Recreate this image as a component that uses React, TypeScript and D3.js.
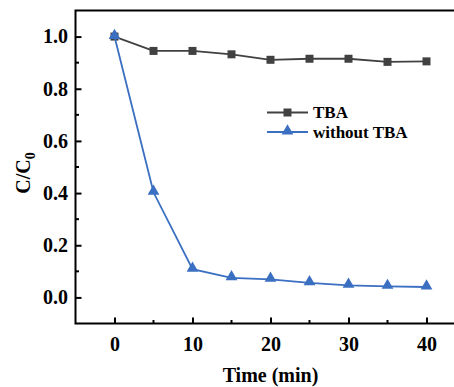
import { useEffect, useRef } from "react"
import * as d3 from "d3"

const times = [0, 5, 10, 15, 20, 25, 30, 35, 40]
const tba = [1.0, 0.945, 0.945, 0.932, 0.911, 0.915, 0.915, 0.903, 0.905]
const withoutTba = [1.0, 0.403, 0.108, 0.075, 0.069, 0.056, 0.046, 0.042, 0.04]
const xTicks = [0, 10, 20, 30, 40]
const yTicks = [0, 0.2, 0.4, 0.6, 0.8, 1.0]

const GRAY = "#414141"
const BLUE = "#3a6fc1"
const FONT = "'Liberation Serif', 'Times New Roman', serif"

export default function App() {
  const ref = useRef<SVGSVGElement>(null)
  useEffect(() => {
    if (!ref.current) return
    const svg = d3.select(ref.current)
    svg.selectAll("*").remove()
    const L = 75.5, T = 10.5, B = 323.5
    const x = d3.scaleLinear().domain([-5, 45]).range([L, L + 50 * 7.8])
    const y = d3.scaleLinear().domain([-0.1, 1.1]).range([B, T])

    // frame (right side runs off the picture)
    svg.append("path").attr("d", `M${x(45)},${T}H${L}V${B}H${x(45)}`)
      .attr("fill", "none").attr("stroke", "#000").attr("stroke-width", 2)

    const xAxis = svg.append("g").attr("transform", `translate(0,${B})`)
      .call(d3.axisBottom(x).tickValues(xTicks).tickSize(-6).tickPadding(13).tickFormat(d3.format("d")))
    xAxis.select(".domain").remove()
    xAxis.selectAll("line").attr("stroke-width", 2)
    xAxis.selectAll("text").style("font-family", FONT).style("font-size", "20px").style("font-weight", "bold").attr("fill", "#000")
    svg.append("g").selectAll("line").data([5, 15, 25, 35]).join("line")
      .attr("x1", d => x(d)).attr("x2", d => x(d)).attr("y1", B).attr("y2", B - 3.5)
      .attr("stroke", "#000").attr("stroke-width", 2)

    const yAxis = svg.append("g").attr("transform", `translate(${L},0)`)
      .call(d3.axisLeft(y).tickValues(yTicks).tickSize(-6).tickPadding(7.5).tickFormat(d3.format(".1f")))
    yAxis.select(".domain").remove()
    yAxis.selectAll("line").attr("stroke-width", 2)
    yAxis.selectAll("text").style("font-family", FONT).style("font-size", "20px").style("font-weight", "bold").attr("fill", "#000")
    svg.append("g").selectAll("line").data([0.1, 0.3, 0.5, 0.7, 0.9]).join("line")
      .attr("x1", L).attr("x2", L + 3.5).attr("y1", d => y(d)).attr("y2", d => y(d))
      .attr("stroke", "#000").attr("stroke-width", 2)

    svg.append("text").attr("x", (L + x(45)) / 2).attr("y", 382).attr("text-anchor", "middle")
      .style("font-family", FONT).style("font-size", "20px").style("font-weight", "bold").text("Time (min)")
    const yl = svg.append("text").attr("transform", `translate(30,${(T + B) / 2 + 6}) rotate(-90)`).attr("text-anchor", "middle")
      .style("font-family", FONT).style("font-size", "20px").style("font-weight", "bold")
    yl.append("tspan").text("C/C")
    yl.append("tspan").attr("dy", 5).style("font-size", "14px").text("0")

    const line = d3.line<number>().x((_, i) => x(times[i])).y(d => y(d))
    const square = d3.symbol(d3.symbolSquare, 64)
    const tri = d3.symbol(d3.symbolTriangle, 60)

    svg.append("path").datum(tba).attr("d", line).attr("fill", "none").attr("stroke", GRAY).attr("stroke-width", 1.8)
    svg.append("g").selectAll("path").data(tba).join("path")
      .attr("transform", (d, i) => `translate(${x(times[i])},${y(d)})`).attr("d", square()).attr("fill", GRAY)

    svg.append("path").datum(withoutTba).attr("d", line).attr("fill", "none").attr("stroke", BLUE).attr("stroke-width", 1.8)
    svg.append("g").selectAll("path").data(withoutTba).join("path")
      .attr("transform", (d, i) => `translate(${x(times[i])},${y(d) - 1})`).attr("d", tri()).attr("fill", BLUE)

    const legend = [
      { label: "TBA", color: GRAY, sym: square, dy: 112.5 },
      { label: "without TBA", color: BLUE, sym: tri, dy: 132 },
    ]
    legend.forEach(d => {
      svg.append("line").attr("x1", 267).attr("x2", 308).attr("y1", d.dy).attr("y2", d.dy)
        .attr("stroke", d.color).attr("stroke-width", 1.8)
      svg.append("path").attr("transform", `translate(287.5,${d.dy - (d.sym === tri ? 1 : 0)})`).attr("d", d.sym()).attr("fill", d.color)
      svg.append("text").attr("x", 313).attr("y", d.dy).attr("dominant-baseline", "central")
        .style("font-family", FONT).style("font-size", "17px").style("font-weight", "bold").text(d.label)
    })
  }, [])
  return <svg ref={ref} width={454} height={387} style={{ position: "absolute", left: 0, top: 0, background: "#fff" }} />
}
